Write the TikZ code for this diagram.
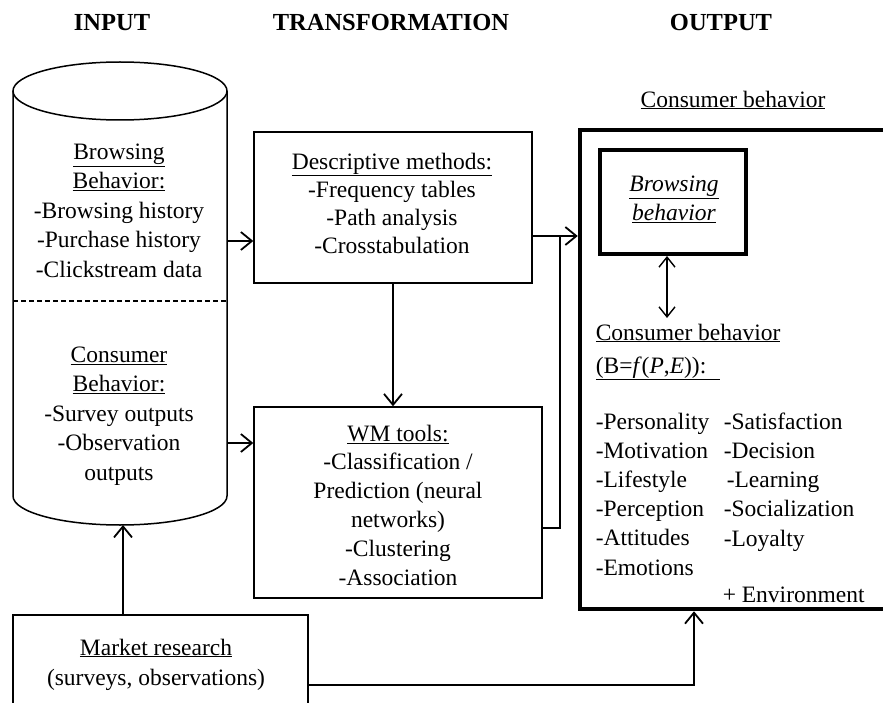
\documentclass[tikz,border=0pt]{standalone}
\usepackage{fontspec}
\setmainfont{Liberation Serif}
\usetikzlibrary{arrows.meta,positioning}

\begin{document}
\begin{tikzpicture}[x=1pt,y=-1pt,line width=1.5pt,inner sep=0pt,
  font=\fontsize{23.5}{29}\selectfont]
  \tikzstyle{box}=[draw,line width=1.4pt]
  \tikzstyle{heavy}=[draw,line width=4.5pt]
  \tikzstyle{txt}=[align=center,anchor=north]
  \tikzstyle{lst}=[align=left,anchor=north west]
  \tikzstyle{head}=[anchor=north,font=\fontsize{24.5}{29}\selectfont\bfseries]
  \tikzstyle{arr}=[-{Straight Barb[length=11pt,width=18pt]},line width=1.8pt]
  \tikzstyle{arr2}=[{Straight Barb[length=10pt,width=16pt]}-{Straight Barb[length=10pt,width=16pt]},line width=1.4pt]

  \useasboundingbox (0,0) rectangle (883,703);

  \node[head] (inp) at (112,14) {INPUT};
  \node[head] (trf) at (391,14) {TRANSFORMATION};
  \node[head] (outp) at (721,14) {OUTPUT};

  % database
  \draw (120,91) ellipse [x radius=107pt,y radius=29pt];
  \draw (13,91) -- (13,496) arc [start angle=180,end angle=360,x radius=107pt,y radius=29pt] -- (227,91);
  \draw[dash pattern=on 5pt off 3pt,line width=1.2pt] (13,301) -- (227,301);
  \node[txt,font=\fontsize{23.5}{29.5}\selectfont] (brw) at (119,143)
    {\underline{Browsing}\\ \underline{Behavior:}\\ -Browsing history\\ -Purchase history\\ -Clickstream data};
  \node[txt,font=\fontsize{23.5}{29.5}\selectfont] (cns) at (119,346)
    {\underline{Consumer}\\ \underline{Behavior:}\\ -Survey outputs\\ -Observation\\ outputs};

  % transformation
  \node[box,minimum width=278pt,minimum height=151pt] (desc) at (393,207.5) {};
  \node[txt,font=\fontsize{23.5}{28.3}\selectfont] (desct) at (392,152)
    {\underline{Descriptive methods:}\\ -Frequency tables\\ -Path analysis\\ -Crosstabulation};
  \node[box,minimum width=288pt,minimum height=191pt] (wm) at (398,502.5) {};
  \node[txt,font=\fontsize{23.5}{28.8}\selectfont] (wmt) at (398,424)
    {\underline{WM tools:}\\ -Classification /\\ Prediction (neural\\ networks)\\ -Clustering\\ -Association};

  % market research
  \node[box,minimum width=295pt,minimum height=96pt] (mkt) at (160.5,663) {};
  \node[txt,font=\fontsize{23.5}{30}\selectfont] (mktt) at (156,638)
    {\underline{Market research}\\ (surveys, observations)};

  % output
  \node[txt] (cbh) at (733,90) {\underline{Consumer behavior}};
  \node[heavy,minimum width=312pt,minimum height=479pt] (out) at (736,369.5) {};
  \node[heavy,line width=4pt,minimum width=146pt,minimum height=104pt] (bb) at (673,202) {};
  \node[txt,font=\fontsize{23.5}{29}\selectfont\itshape] (bbt) at (674,175)
    {\underline{Browsing}\\ \underline{behavior}};
  \node[lst,font=\fontsize{23.5}{33}\selectfont] (cbt) at (595,323)
    {\underline{Consumer behavior}\\ \underline{(B=\textit{f}(\textit{P},\textit{E})):\hspace{14pt}}};
  \node[lst,font=\fontsize{23.5}{29.2}\selectfont] (trl) at (595,412)
    {-Personality\\ -Motivation\\ -Lifestyle\\ -Perception\\ -Attitudes\\ -Emotions};
  \node[lst,font=\fontsize{23.5}{29.2}\selectfont] (trr) at (723,412)
    {-Satisfaction\\ -Decision\\ \hspace*{3pt}-Learning\\ -Socialization\\ -Loyalty};
  \node[anchor=base west] (env) at (722,602) {+ Environment};

  % connectors
  \coordinate (c1) at (227,241);
  \coordinate (c2) at (227,443);
  \coordinate (jn) at (560,236);
  \coordinate (cb) at (123,525);
  \coordinate (oin) at (694,0);
  \coordinate (dv) at (667,318);
  \path[arr]
  (c1) edge (c1 -| desc.west)
  (c2) edge (c2 -| wm.west);
  \draw[arr] (desc.south) -- (desc.south |- wm.north);
  \draw[arr] (desc.east |- jn) -- (jn -| out.west);
  \draw (wm.east |- 0,528) -| (jn);
  \draw[arr] (cb |- mkt.north) -- (cb);
  \draw[arr] (mkt.east |- 0,685) -| (out.south -| oin);
  \draw[arr2] (dv |- bb.south) -- (dv);
\end{tikzpicture}
\end{document}
